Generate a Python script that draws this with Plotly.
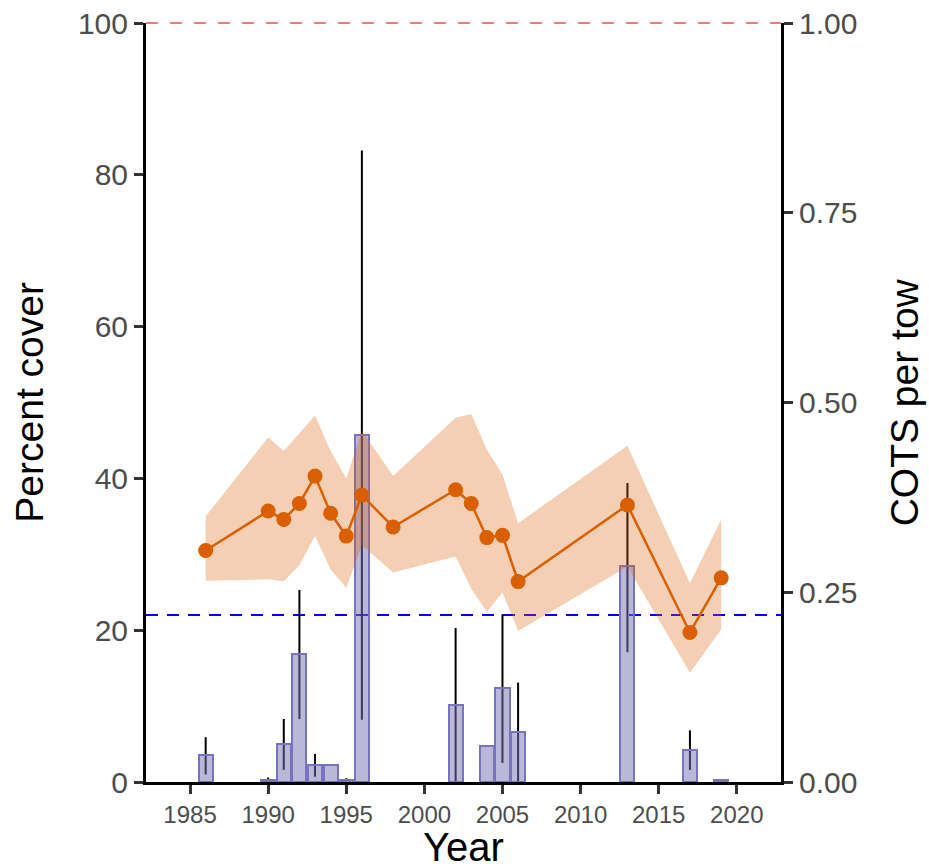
import plotly.graph_objects as go

# Coral cover survey (percent cover, mean with 95% band)
cover_years = [1986, 1990, 1991, 1992, 1993, 1994, 1995, 1996, 1998,
               2002, 2003, 2004, 2005, 2006, 2013, 2017, 2019]
cover_mean = [30.5, 35.7, 34.6, 36.7, 40.3, 35.4, 32.4, 37.8, 33.6,
              38.5, 36.7, 32.2, 32.5, 26.4, 36.5, 19.7, 26.9]
cover_upper = [35.0, 45.4, 43.6, 46.0, 48.3, 43.6, 40.0, 46.3, 40.3,
               48.0, 48.5, 43.8, 40.5, 34.1, 44.3, 26.2, 34.6]
cover_lower = [26.5, 26.7, 26.4, 28.6, 32.4, 28.0, 25.6, 31.2, 27.6,
               29.7, 25.5, 22.4, 25.0, 19.9, 28.4, 14.4, 20.1]

# Crown-of-thorns starfish density (COTS per tow, mean with 95% CI)
cots_years = [1986, 1990, 1991, 1992, 1993, 1994, 1995, 1996, 1998,
              2002, 2003, 2004, 2005, 2006, 2013, 2017, 2019]
cots_mean = [0.035, 0.003, 0.050, 0.169, 0.022, 0.022, 0.002, 0.457, 0.0,
             0.101, 0.0, 0.048, 0.124, 0.066, 0.284, 0.042, 0.002]
cots_lower = [0.010, 0.000, 0.016, 0.083, 0.007, 0.022, 0.000, 0.082, 0.0,
              0.000, 0.0, 0.048, 0.025, 0.000, 0.171, 0.016, 0.000]
cots_upper = [0.059, 0.006, 0.083, 0.253, 0.037, 0.022, 0.005, 0.832, 0.0,
              0.203, 0.0, 0.048, 0.221, 0.131, 0.394, 0.068, 0.004]

outbreak_threshold = 0.22   # COTS per tow
cover_max = 100             # percent

x_ticks = [1985, 1990, 1995, 2000, 2005, 2010, 2015, 2020]
cover_ticks = [0, 20, 40, 60, 80, 100]
cots_ticks = [0.0, 0.25, 0.50, 0.75, 1.0]
cover_range = [0, 100]
cots_range = [0, 1]

FONT = "Liberation Sans, Arial, sans-serif"
TICK_COL = "#4d4d4d"

fig = go.Figure()

# CI whiskers for COTS (drawn beneath the semi-transparent bars)
ex, ey = [], []
for yr, lo, hi in zip(cots_years, cots_lower, cots_upper):
    if hi > lo:
        ex += [yr, yr, None]
        ey += [lo, hi, None]
fig.add_trace(go.Scatter(x=ex, y=ey, mode="lines", xaxis="x", yaxis="y",
                         line=dict(color="black", width=2),
                         hoverinfo="skip", showlegend=False))

# COTS density bars (years with no starfish recorded have no bar)
bar_x = [yr for yr, v in zip(cots_years, cots_mean) if v > 0]
bar_y = [v for v in cots_mean if v > 0]
fig.add_trace(go.Bar(x=bar_x, y=bar_y, width=0.9, xaxis="x", yaxis="y2",
                     marker=dict(color="rgba(117,112,179,0.5)",
                                 line=dict(color="#7873bd", width=2)),
                     showlegend=False))

# Coral cover confidence band
fig.add_trace(go.Scatter(x=cover_years + cover_years[::-1],
                         y=cover_upper + cover_lower[::-1],
                         fill="toself", fillcolor="rgba(217,95,2,0.3)",
                         line=dict(width=0), mode="lines",
                         xaxis="x", yaxis="y3",
                         hoverinfo="skip", showlegend=False))

# Coral cover mean
fig.add_trace(go.Scatter(x=cover_years, y=cover_mean, mode="lines+markers",
                         xaxis="x", yaxis="y3",
                         line=dict(color="#d95f02", width=2.5),
                         marker=dict(color="#d95f02", size=15),
                         showlegend=False))

axis_common = dict(showline=True, linewidth=3, linecolor="black",
                   ticks="outside", ticklen=9, tickwidth=3, tickcolor="#333333",
                   showgrid=False, zeroline=False, automargin=False,
                   tickfont=dict(family=FONT, size=30, color=TICK_COL))

fig.update_layout(
    width=929, height=868,
    margin=dict(l=146, r=148, t=23, b=86),
    paper_bgcolor="white", plot_bgcolor="white",
    font=dict(family=FONT),
    bargap=0,
    xaxis=dict(range=[1982.18, 2022.83], tickvals=x_ticks,
               **{**axis_common, "tickfont": dict(family=FONT, size=24, color=TICK_COL)}),
    yaxis=dict(range=cots_range, side="right", tickvals=cots_ticks, tickformat=".2f",
               anchor="x", **axis_common),
    yaxis2=dict(range=cots_range, overlaying="y", visible=False, anchor="x"),
    yaxis3=dict(range=cover_range, overlaying="y", side="left", tickvals=cover_ticks,
                anchor="x", **axis_common),
    shapes=[
        dict(type="line", xref="paper", x0=0, x1=1, yref="y",
             y0=outbreak_threshold, y1=outbreak_threshold, layer="below",
             line=dict(color="#0000ff", width=2, dash="12px,9px")),
        # reference line at full cover, placed in paper units so it is not clipped
        dict(type="line", xref="paper", x0=0, x1=1, yref="paper",
             y0=cover_max / cover_range[1], y1=cover_max / cover_range[1],
             layer="below",
             line=dict(color="#f77a7a", width=2, dash="12px,12px")),
    ],
    annotations=[
        dict(text="Percent cover", xref="paper", yref="paper", x=-0.184, y=0.5,
             xanchor="center", yanchor="middle", textangle=-90, showarrow=False,
             font=dict(family=FONT, size=39, color="black")),
        dict(text="COTS per tow", xref="paper", yref="paper", x=1.195, y=0.5,
             xanchor="center", yanchor="middle", textangle=-90, showarrow=False,
             font=dict(family=FONT, size=39, color="black")),
        dict(text="Year", xref="paper", yref="paper", x=0.5, y=-0.085,
             xanchor="center", yanchor="middle", showarrow=False,
             font=dict(family=FONT, size=40, color="black")),
    ],
)

fig.write_html("out.html")
